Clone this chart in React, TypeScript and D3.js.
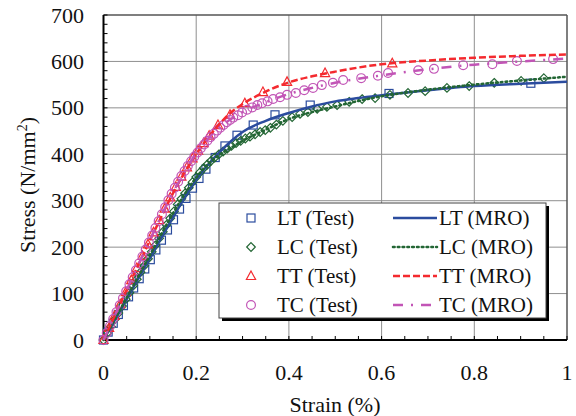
import React from "react";
import * as d3 from "d3";

// ---------- data ----------
const X_TICKS = [0, 0.2, 0.4, 0.6, 0.8, 1];
const X_TICK_LABELS = ["0", "0.2", "0.4", "0.6", "0.8", "1"];
const Y_TICKS = [0, 100, 200, 300, 400, 500, 600, 700];
const Y_TICK_LABELS = ["0", "100", "200", "300", "400", "500", "600", "700"];

// Test data (markers)
const LT_TEST_X = [0, 0.010, 0.021, 0.032, 0.043, 0.054, 0.065, 0.077, 0.089, 0.101, 0.113, 0.125, 0.138, 0.151, 0.164, 0.178, 0.192, 0.206, 0.221, 0.241, 0.262, 0.288, 0.323, 0.370, 0.446, 0.616, 0.922];
const LT_TEST_Y = [0, 17, 36, 55, 74, 93, 112, 132, 153, 173, 194, 215, 237, 259, 282, 305, 327, 348, 368, 393, 418, 441, 463, 485, 506, 531, 553];

const LC_TEST_X = [0, 0.008, 0.016, 0.024, 0.032, 0.040, 0.048, 0.056, 0.064, 0.072, 0.080, 0.088, 0.096, 0.104, 0.112, 0.120, 0.128, 0.136, 0.144, 0.152, 0.160, 0.168, 0.176, 0.184, 0.192, 0.200, 0.208, 0.216, 0.224, 0.232, 0.240, 0.249, 0.258, 0.267, 0.276, 0.286, 0.296, 0.306, 0.316, 0.327, 0.338, 0.349, 0.360, 0.373, 0.387, 0.407, 0.424, 0.441, 0.461, 0.482, 0.504, 0.530, 0.558, 0.586, 0.618, 0.657, 0.694, 0.741, 0.789, 0.843, 0.901, 0.950];
const LC_TEST_Y = [0, 15, 29, 44, 58, 73, 88, 102, 117, 131, 146, 160, 175, 190, 204, 219, 233, 248, 262, 277, 292, 304, 316, 328, 340, 351, 361, 370, 378, 386, 393, 400, 406, 412, 418, 424, 429, 434, 438, 443, 448, 452, 457, 464, 472, 480, 487, 491, 498, 502, 506, 513, 519, 521, 528, 532, 536, 543, 547, 554, 558, 564];

const TT_TEST_X = [0, 0.012, 0.024, 0.036, 0.048, 0.060, 0.072, 0.084, 0.096, 0.108, 0.120, 0.132, 0.144, 0.156, 0.168, 0.180, 0.192, 0.204, 0.216, 0.228, 0.247, 0.273, 0.305, 0.344, 0.396, 0.478, 0.623];
const TT_TEST_Y = [0, 26, 52, 77, 103, 129, 155, 181, 206, 232, 258, 283, 307, 330, 352, 372, 391, 408, 424, 440, 463, 485, 510, 534, 556, 575, 596];

const TC_TEST_X = [0, 0.007, 0.014, 0.021, 0.028, 0.035, 0.042, 0.049, 0.056, 0.063, 0.070, 0.077, 0.084, 0.091, 0.098, 0.105, 0.112, 0.119, 0.126, 0.133, 0.140, 0.147, 0.154, 0.161, 0.168, 0.175, 0.182, 0.189, 0.196, 0.203, 0.210, 0.217, 0.224, 0.231, 0.238, 0.245, 0.252, 0.259, 0.266, 0.273, 0.280, 0.290, 0.299, 0.310, 0.321, 0.332, 0.342, 0.354, 0.366, 0.381, 0.396, 0.415, 0.433, 0.452, 0.471, 0.495, 0.517, 0.556, 0.592, 0.614, 0.679, 0.713, 0.776, 0.839, 0.892, 0.970];
const TC_TEST_Y = [0, 15, 30, 45, 60, 75, 90, 105, 120, 135, 150, 165, 180, 195, 210, 225, 241, 256, 271, 286, 301, 315, 328, 341, 353, 364, 375, 385, 395, 404, 413, 421, 429, 437, 444, 451, 457, 463, 469, 474, 479, 484, 490, 496, 501, 506, 510, 514, 519, 523, 528, 532, 538, 543, 549, 554, 560, 564, 569, 575, 581, 584, 592, 594, 601, 605];

// MRO model curves (lines)
const LT_MRO_X = [0, 0.05, 0.1, 0.15, 0.175, 0.2, 0.225, 0.25, 0.275, 0.3, 0.35, 0.4, 0.45, 0.5, 0.55, 0.6, 0.7, 0.8, 0.9, 1.0];
const LT_MRO_Y = [0, 88, 176, 264, 306, 345, 377, 404, 428, 448, 472, 489, 503, 514, 521, 527, 538, 547, 552, 556];

const LC_MRO_X = [0, 0.05, 0.1, 0.15, 0.175, 0.2, 0.225, 0.25, 0.275, 0.3, 0.35, 0.4, 0.45, 0.5, 0.55, 0.6, 0.7, 0.8, 0.9, 1.0];
const LC_MRO_Y = [0, 91, 182, 273, 314, 350, 378, 399, 414, 429, 453, 476, 491, 503, 515, 525, 539, 550, 559, 567];

const TT_MRO_X = [0, 0.05, 0.1, 0.15, 0.175, 0.2, 0.225, 0.25, 0.275, 0.3, 0.35, 0.4, 0.45, 0.5, 0.6, 0.7, 0.8, 0.9, 1.0];
const TT_MRO_Y = [0, 108, 214, 316, 361, 400, 435, 465, 490, 508, 535, 555, 568, 578, 594, 602, 608, 612, 615];

const TC_MRO_X = [0, 0.05, 0.1, 0.15, 0.175, 0.2, 0.225, 0.25, 0.275, 0.3, 0.35, 0.4, 0.45, 0.5, 0.6, 0.7, 0.8, 0.9, 1.0];
const TC_MRO_Y = [0, 108, 215, 318, 362, 402, 433, 457, 476, 491, 512, 530, 543, 554, 570, 583, 593, 600, 606];

const SERIES_NAMES = ["LT", "LC", "TT", "TC"];

// ---------- layout ----------
const W = 576;
const H = 416;
const M = { left: 103.5, right: 567, top: 15, bottom: 340 };
const FONT = '"Liberation Serif", Tinos, "Noto Serif", "DejaVu Serif", serif';
const CSS = `svg.chart text { font-family: ${FONT} !important; }`;

const COLORS: Record<string, string> = {
  LT: "#2B4C9E",
  LC: "#236634",
  TT: "#F42A2F",
  TC: "#C255B6",
};
const DASH: Record<string, string> = {
  LT: "none",
  LC: "1.6 3.2",
  TT: "7 3",
  TC: "10 8 2 8",
};

const zip = (xs: number[], ys: number[]) => xs.map((x, i) => [x, ys[i]] as [number, number]);

function Marker({ type, x, y, color }: { type: string; x: number; y: number; color: string }) {
  const sw = 1.2;
  if (type === "LT") {
    return <rect x={x - 4} y={y - 4} width={8} height={8} fill="none" stroke={color} strokeWidth={sw} />;
  }
  if (type === "LC") {
    const r = 4.3;
    return (
      <path d={`M${x},${y - r}L${x + r},${y}L${x},${y + r}L${x - r},${y}Z`} fill="none" stroke={color} strokeWidth={sw} />
    );
  }
  if (type === "TT") {
    return (
      <path d={`M${x},${y - 5}L${x + 4.6},${y + 3.5}L${x - 4.6},${y + 3.5}Z`} fill="none" stroke={color} strokeWidth={sw} />
    );
  }
  return <circle cx={x} cy={y} r={4.4} fill="none" stroke={color} strokeWidth={sw} />;
}

function T(props: { x: number; y: number; size: number; anchor?: string; transform?: string; children: React.ReactNode }) {
  return (
    <text
      x={props.x}
      y={props.y}
      transform={props.transform}
      textAnchor={props.anchor || "start"}
      fill="#111"
      fontSize={props.size}
      fontFamily="Liberation Serif"
    >
      {props.children}
    </text>
  );
}

export default function App() {
  const x = d3.scaleLinear().domain([0, 1]).range([M.left, M.right]);
  const y = d3.scaleLinear().domain([0, 700]).range([M.bottom, M.top]);
  const line = d3
    .line<[number, number]>()
    .x((d) => x(d[0]))
    .y((d) => y(d[1]))
    .curve(d3.curveMonotoneX);

  const tests: Record<string, [number, number][]> = {
    LT: zip(LT_TEST_X, LT_TEST_Y),
    LC: zip(LC_TEST_X, LC_TEST_Y),
    TT: zip(TT_TEST_X, TT_TEST_Y),
    TC: zip(TC_TEST_X, TC_TEST_Y),
  };
  const mros: Record<string, [number, number][]> = {
    LT: zip(LT_MRO_X, LT_MRO_Y),
    LC: zip(LC_MRO_X, LC_MRO_Y),
    TT: zip(TT_MRO_X, TT_MRO_Y),
    TC: zip(TC_MRO_X, TC_MRO_Y),
  };

  const xMinor = d3.range(0, 1.0001, 0.05);
  const yMinor = d3.range(0, 700.01, 20);

  // legend
  const LG = { x: 219, y: 203, w: 327, h: 115 };
  const rowY = (i: number) => 218 + i * 29;

  return (
    <div style={{ fontFamily: FONT }}>
      <style>{CSS}</style>
      <svg className="chart" width={W} height={H} style={{ position: "absolute", left: 0, top: 0 }}>
        <rect x={0} y={0} width={W} height={H} fill="#fff" />
        {/* grid */}
        {X_TICKS.slice(1, -1).map((t) => (
          <line key={"gx" + t} x1={x(t)} x2={x(t)} y1={M.top} y2={M.bottom} stroke="#8f8f8f" strokeWidth={1} />
        ))}
        {Y_TICKS.slice(1, -1).map((t) => (
          <line key={"gy" + t} x1={M.left} x2={M.right} y1={y(t)} y2={y(t)} stroke="#8f8f8f" strokeWidth={1} />
        ))}
        {/* frame top/right */}
        <line x1={M.left} x2={M.right} y1={M.top} y2={M.top} stroke="#555" strokeWidth={1.5} />
        <line x1={M.right} x2={M.right} y1={M.top} y2={M.bottom} stroke="#555" strokeWidth={1.5} />
        {/* minor ticks */}
        {xMinor.map((t) => (
          <line key={"tx" + t} x1={x(t)} x2={x(t)} y1={M.bottom} y2={M.bottom - 4} stroke="#000" strokeWidth={1} />
        ))}
        {yMinor.map((t) => (
          <line key={"ty" + t} x1={M.left} x2={M.left + 4} y1={y(t)} y2={y(t)} stroke="#000" strokeWidth={1} />
        ))}
        {/* axes */}
        <line x1={M.left} x2={M.left} y1={M.top} y2={M.bottom} stroke="#000" strokeWidth={2} />
        <line x1={M.left} x2={M.right} y1={M.bottom} y2={M.bottom} stroke="#000" strokeWidth={2} />

        {/* tick labels */}
        {X_TICKS.map((t, i) => (
          <T key={"xl" + t} x={x(t)} y={380} size={22} anchor="middle">
            {X_TICK_LABELS[i]}
          </T>
        ))}
        {Y_TICKS.map((t, i) => (
          <T key={"yl" + t} x={84} y={y(t) + 7.5} size={22} anchor="end">
            {Y_TICK_LABELS[i]}
          </T>
        ))}
        <T x={335} y={412} size={22} anchor="middle">
          Strain (%)
        </T>
        <T x={0} y={0} transform="translate(35,185) rotate(-90)" size={22} anchor="middle">
          Stress (N/mm<tspan dy={-8} fontSize={14}>2</tspan>
          <tspan dy={8}>)</tspan>
        </T>

        {/* markers */}
        {SERIES_NAMES.map((s) => (
          <g key={"m" + s}>
            {tests[s].map((d, i) => (
              <Marker key={i} type={s} x={x(d[0])} y={y(d[1])} color={COLORS[s]} />
            ))}
          </g>
        ))}
        {/* lines */}
        {SERIES_NAMES.map((s) => (
          <path
            key={"l" + s}
            d={line(mros[s]) || ""}
            fill="none"
            stroke={COLORS[s]}
            strokeWidth={s === "LC" ? 2.6 : 2.5}
            strokeDasharray={DASH[s]}
            strokeLinecap={s === "LC" ? "round" : "butt"}
          />
        ))}

        {/* legend */}
        <rect x={LG.x + 3} y={LG.y + 3} width={LG.w} height={LG.h} fill="#000" />
        <rect x={LG.x} y={LG.y} width={LG.w} height={LG.h} fill="#fff" stroke="#444" strokeWidth={1} />
        {SERIES_NAMES.map((s, i) => (
          <g key={"lg" + s}>
            <Marker type={s} x={251} y={rowY(i)} color={COLORS[s]} />
            <T x={277} y={rowY(i) + 7} size={21}>
              {s} (Test)
            </T>
            <line
              x1={393}
              x2={437}
              y1={rowY(i)}
              y2={rowY(i)}
              stroke={COLORS[s]}
              strokeWidth={s === "LC" ? 2.6 : 2.5}
              strokeDasharray={DASH[s]}
              strokeLinecap={s === "LC" ? "round" : "butt"}
            />
            <T x={439} y={rowY(i) + 7} size={21}>
              {s} (MRO)
            </T>
          </g>
        ))}
      </svg>
    </div>
  );
}
